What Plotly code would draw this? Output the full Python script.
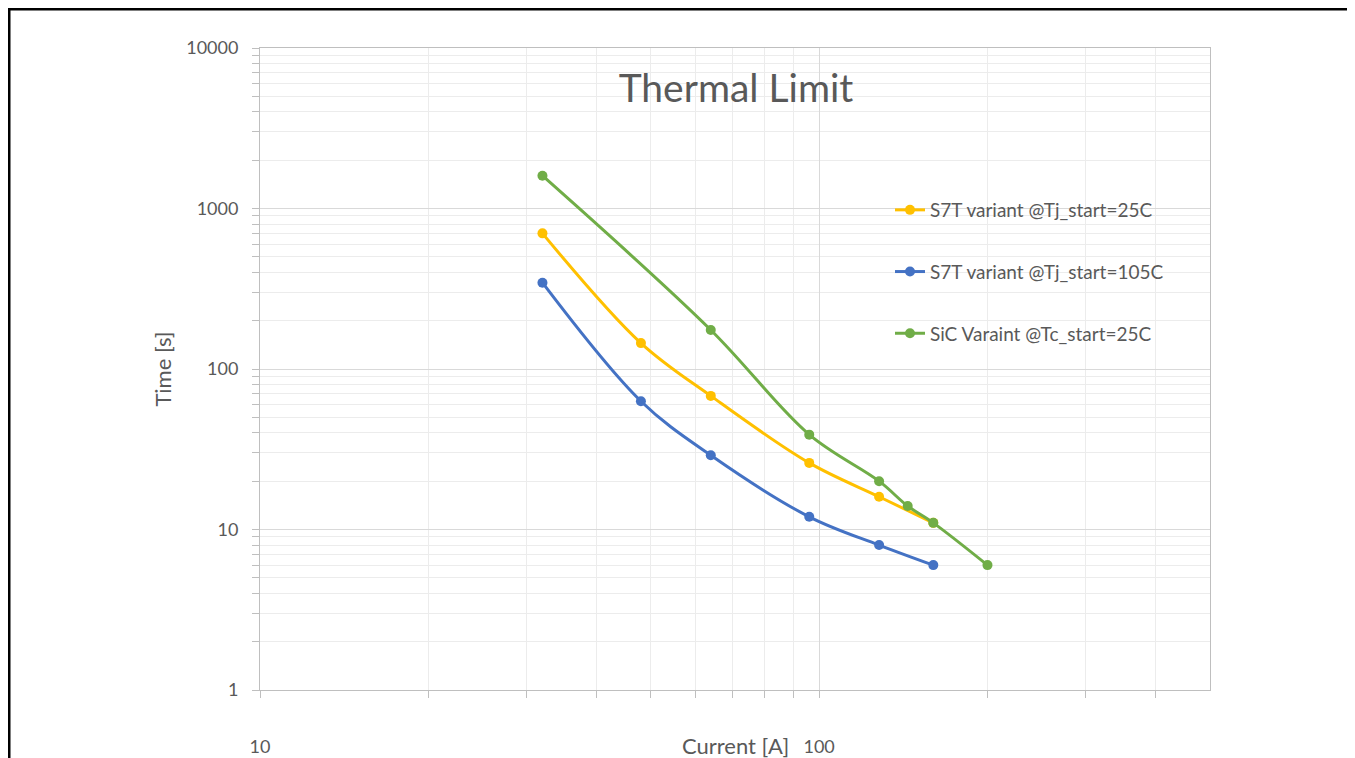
import plotly.graph_objects as go

# data
current_s7t = [32, 48, 64, 96, 128, 160]
time_s7t_25c = [700, 145, 68, 26, 16, 11]
time_s7t_105c = [345, 63, 29, 12, 8, 6]

current_sic = [32, 64, 96, 128, 144, 160, 200]
time_sic_25c = [1600, 175, 39, 20, 14, 11, 6]

names = ["S7T variant @Tj_start=25C", "S7T variant @Tj_start=105C", "SiC Varaint @Tc_start=25C"]
colors = ["#FFC000", "#4472C4", "#70AD47"]

y_major = [1, 10, 100, 1000, 10000]
y_minor = [m * d for d in [1, 10, 100, 1000] for m in range(2, 10)]
x_major = [10, 100]
x_minor = [m * d for d in [10, 100] for m in range(2, 10) if m * d < 500]

# page has an 8px body margin, so figure px = page px - 8
W, H = 1347, 750
L, T = 252, 40
R, B = W - 1202, H - 682
pw, ph = W - L - R, H - T - B

text_col = "#595959"
font = "Lato, 'Open Sans', sans-serif"

fig = go.Figure()
series = [(current_s7t, time_s7t_25c), (current_s7t, time_s7t_105c), (current_sic, time_sic_25c)]
for i, (xs, ys) in enumerate(series):
    fig.add_trace(go.Scatter(
        x=xs, y=ys, name=names[i], mode="lines+markers",
        legendgroup="g%d" % i,
        line=dict(color=colors[i], width=3, shape="spline", smoothing=1.0),
        marker=dict(color=colors[i], size=10),
    ))

axis_common = dict(
    type="log", showline=True, linecolor="#bfbfbf", linewidth=1, mirror=True,
    gridcolor="#d9d9d9", gridwidth=1, zeroline=False, automargin=False,
    ticks="outside", ticklen=7, tickcolor="#bfbfbf",
    tickfont=dict(family=font, size=18, color=text_col),
)

fig.update_xaxes(
    **axis_common,
    range=[1, 2.699],
    tickmode="array", tickvals=x_major, ticktext=["10", "100"],
    ticklabelstandoff=33,
    minor=dict(tickmode="array", tickvals=x_minor, showgrid=True, gridcolor="#ececec",
               ticks="outside", ticklen=7, tickcolor="#bfbfbf"),
)
fig.update_yaxes(
    **axis_common,
    range=[0, 4],
    tickmode="array", tickvals=y_major, ticktext=[str(v) for v in y_major],
    ticklabelstandoff=10,
    minor=dict(tickmode="array", tickvals=y_minor, showgrid=True, gridcolor="#ececec",
               ticks="outside", ticklen=7, tickcolor="#bfbfbf"),
    title=dict(text="Time [s]", font=dict(family=font, size=22, color=text_col), standoff=8),
)

# x axis title sits on the tick-label row, left of "100"
fig.add_annotation(
    text="Current [A]", xref="paper", yref="paper",
    x=(727 - L) / pw, y=(682 - 737) / ph, xanchor="center", yanchor="middle",
    showarrow=False, font=dict(family=font, size=22, color=text_col),
)

# outer frame (left and top edges only)
fig.add_shape(type="line", xref="paper", yref="paper",
              x0=(1 - L) / pw, x1=(1 - L) / pw, y0=(682 - 760) / ph, y1=(682 - 1) / ph,
              line=dict(color="black", width=3))
fig.add_shape(type="line", xref="paper", yref="paper",
              x0=(0 - L) / pw, x1=(1360 - L) / pw, y0=(682 - 1) / ph, y1=(682 - 1) / ph,
              line=dict(color="black", width=3))

fig.update_layout(
    width=W, height=H,
    margin=dict(l=L, r=R, t=T, b=B, autoexpand=False),
    paper_bgcolor="white", plot_bgcolor="white",
    title=dict(text="Thermal Limit", x=728 / W, xanchor="center",
               y=1 - 80 / H, yanchor="middle",
               font=dict(family=font, size=39, color=text_col)),
    legend=dict(x=(882 - L) / pw, y=(682 - 183) / ph, xanchor="left", yanchor="top",
                bgcolor="rgba(0,0,0,0)", tracegroupgap=34,
                font=dict(family=font, size=19, color=text_col)),
    showlegend=True,
)

fig.write_html("out.html")
